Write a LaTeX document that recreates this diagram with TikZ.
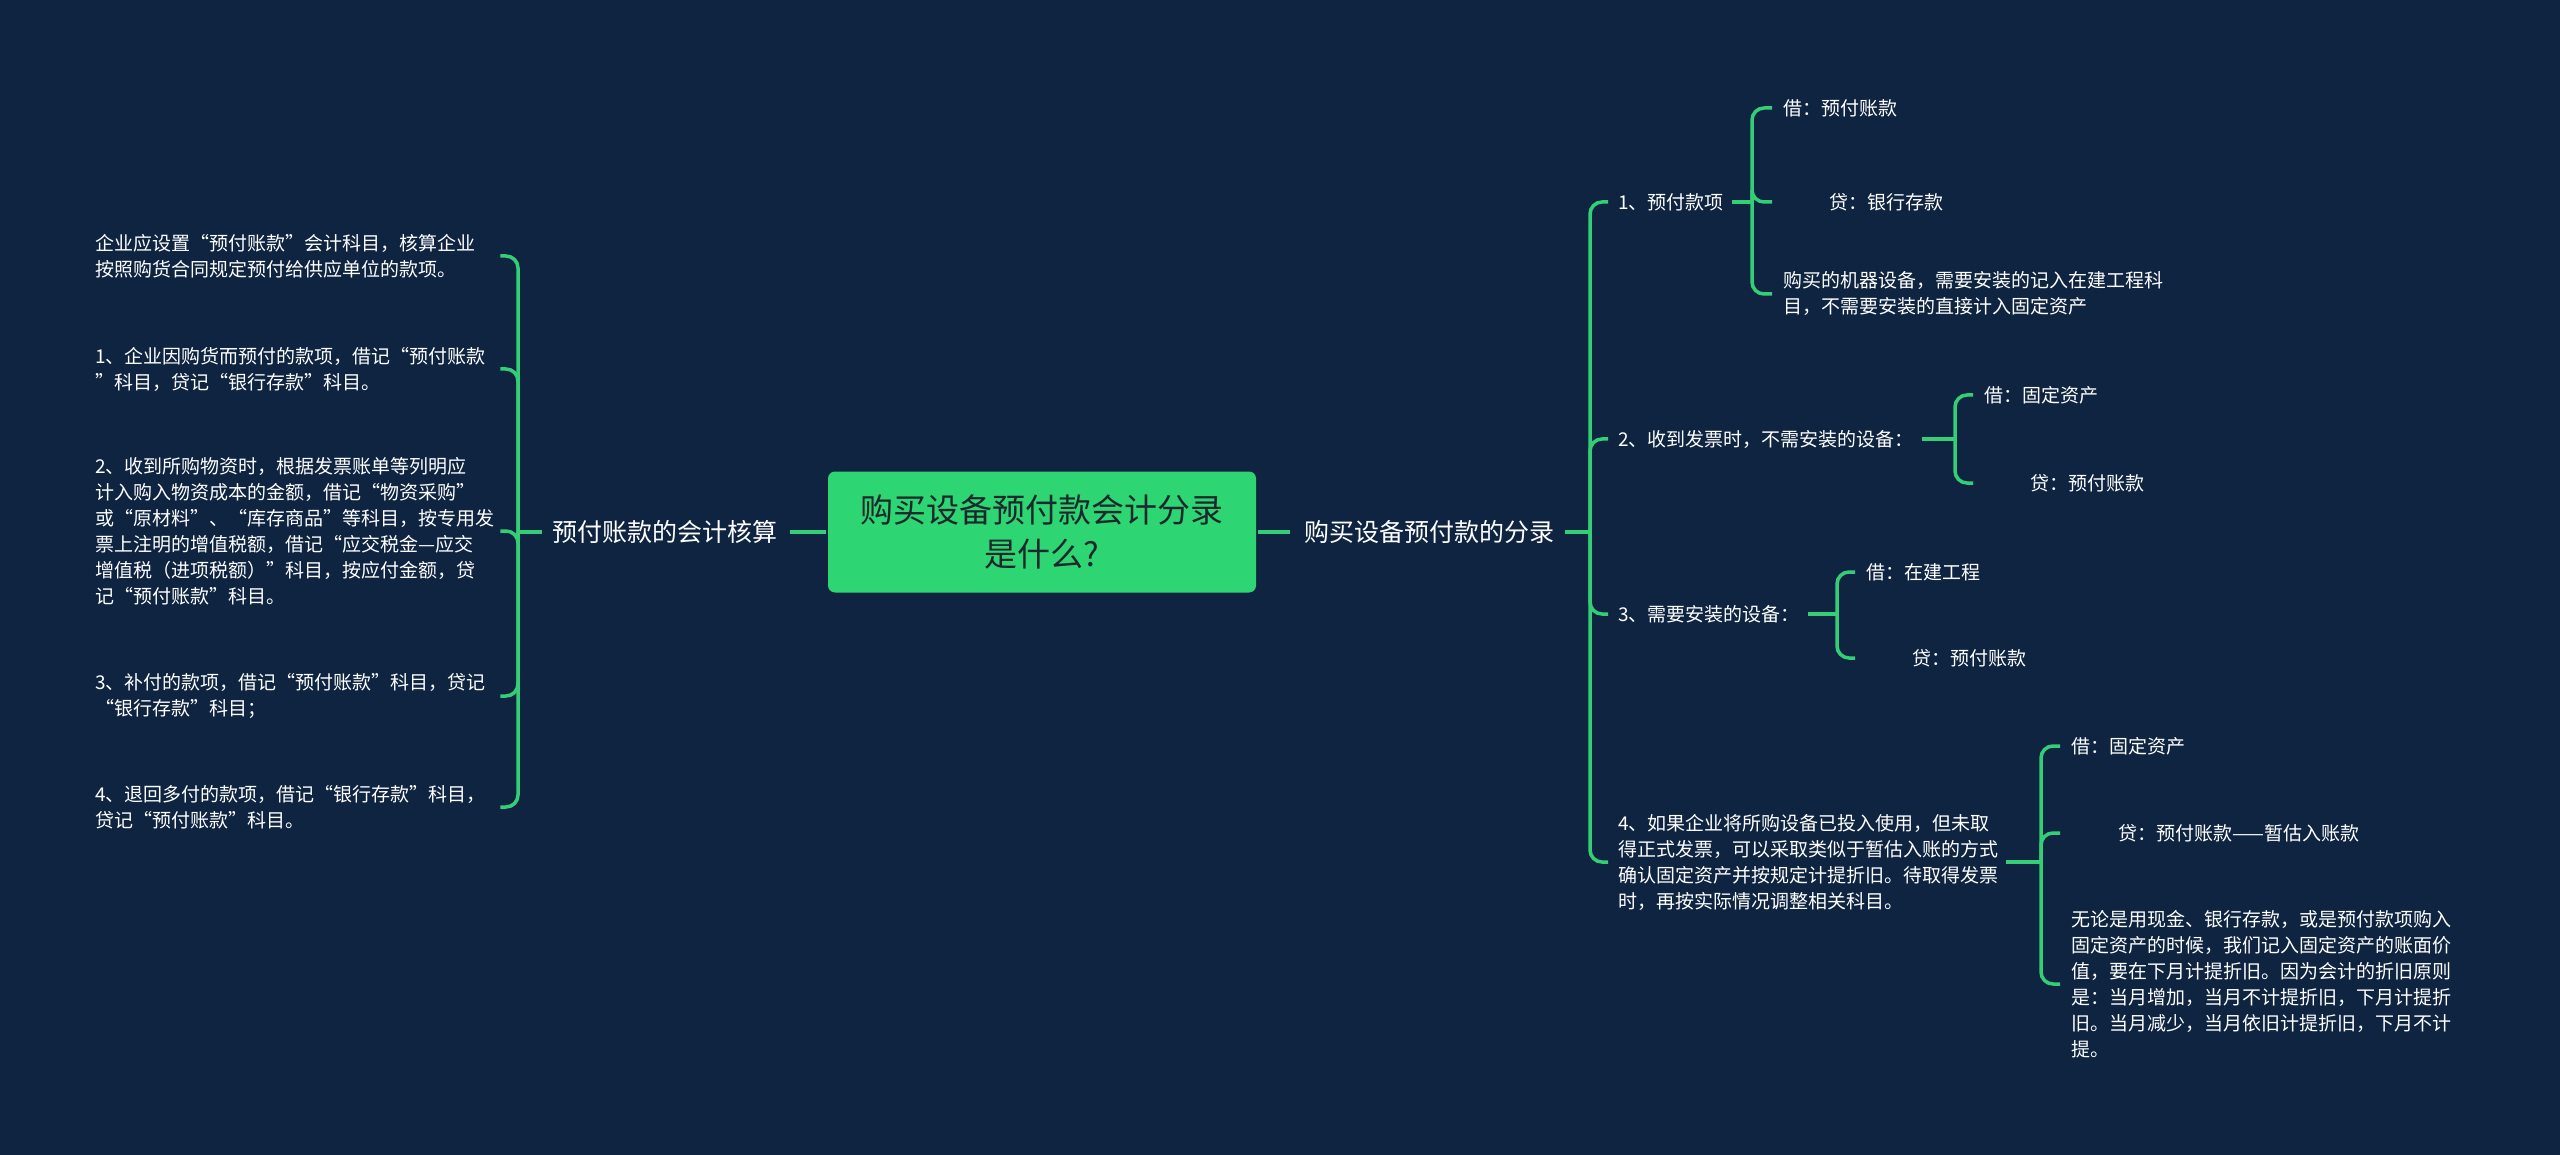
\documentclass[tikz,border=0pt]{standalone}
\usepackage{fontspec}
\setmainfont{Noto Sans CJK SC}
\definecolor{bg}{RGB}{15,36,64}
\definecolor{ln}{RGB}{52,206,118}
\definecolor{boxg}{RGB}{46,213,115}
\definecolor{ctext}{RGB}{28,40,44}
\tikzset{
  conn/.style={draw=ln, line width=3.5pt, rounded corners=12pt},
  small/.style={font=\fontsize{19}{26}\selectfont, text=white, inner sep=0pt, align=left, anchor=west},
  mid/.style={font=\fontsize{25}{32}\selectfont, text=white, inner sep=0pt},
  leftitem/.style={small, text width=392pt},
  root/.style={fill=boxg, rounded corners=7pt, minimum width=428pt, minimum height=121pt, inner sep=0pt,
    align=center, text=ctext, font=\fontsize{33}{44}\selectfont},
}
\begin{document}
\begin{tikzpicture}[x=1pt,y=-1pt]
\fill[bg] (0,0) rectangle (2560,1155);
\useasboundingbox (0,0) rectangle (2560,1155);

% root and first level
\node[root] (root) at (1042,532) {购买设备预付款会计分录\\是什么?};
\node[mid, anchor=east] (lab1) at (778,532) {预付账款的会计核算};
\node[mid, anchor=west] (lab2) at (1304,532) {购买设备预付款的分录};
\draw[conn, shorten <=2pt, shorten >=12pt] (root.west) -- (lab1.east);
\draw[conn, shorten <=2pt, shorten >=14pt] (root.east) -- (lab2.west);

% left side
\coordinate (jL) at (518,532);
\node[leftitem] (L1) at (95,256) {企业应设置“预付账款”会计科目，核算企业\\按照购货合同规定预付给供应单位的款项。};
\node[leftitem] (L2) at (95,369) {1、企业因购货而预付的款项，借记“预付账款\\”科目，贷记“银行存款”科目。};
\node[leftitem] (L3) at (95,531) {2、收到所购物资时，根据发票账单等列明应\\计入购入物资成本的金额，借记“物资采购”\\或“原材料”、“库存商品”等科目，按专用发\\票上注明的增值税额，借记“应交税金—应交\\增值税（进项税额）”科目，按应付金额，贷\\记“预付账款”科目。};
\node[leftitem] (L4) at (95,696) {3、补付的款项，借记“预付账款”科目，贷记\\“银行存款”科目；};
\node[leftitem] (L5) at (95,807) {4、退回多付的款项，借记“银行存款”科目，\\贷记“预付账款”科目。};
\draw[conn, shorten <=11pt] (lab1.west) -- (jL);
\foreach \c in {L1,L2,L3,L4,L5} \draw[conn, shorten >=13pt] (jL) |- (\c.east);

% right side level 2
\coordinate (jR) at (1590,532);
\draw[conn, shorten <=11pt] (lab2.east) -- (jR);
\node[small] (r1) at (1618,202) {1、预付款项};
\node[small] (r2) at (1618,439) {2、收到发票时，不需安装的设备：};
\node[small] (r3) at (1618,614) {3、需要安装的设备：};
\node[small] (r4) at (1618,862) {4、如果企业将所购设备已投入使用，但未取\\得正式发票，可以采取类似于暂估入账的方式\\确认固定资产并按规定计提折旧。待取得发票\\时，再按实际情况调整相关科目。};
\foreach \c in {r1,r2,r3,r4} \draw[conn, shorten >=10pt] (jR) |- (\c.west);

% branch 1
\coordinate (j2) at (1752,202);
\draw[conn, shorten <=8pt] (r1.east) -- (j2);
\node[small] (a1) at (1783,108) {借：预付账款};
\node[small] (a2) at (1783,202) {\hspace*{46pt}贷：银行存款};
\node[small] (a3) at (1783,294) {购买的机器设备，需要安装的记入在建工程科\\目，不需要安装的直接计入固定资产};
\foreach \c in {a1,a2,a3} \draw[conn, shorten >=11pt] (j2) |- (\c.west);

% branch 2
\coordinate (j3) at (1955,439);
\draw[conn, shorten <=8pt] (r2.east) -- (j3);
\node[small] (b1) at (1984,395) {借：固定资产};
\node[small] (b2) at (1984,483) {\hspace*{46pt}贷：预付账款};
\foreach \c in {b1,b2} \draw[conn, shorten >=11pt] (j3) |- (\c.west);

% branch 3
\coordinate (j4) at (1837,614);
\draw[conn, shorten <=8pt] (r3.east) -- (j4);
\node[small] (c1) at (1866,572) {借：在建工程};
\node[small] (c2) at (1866,658) {\hspace*{46pt}贷：预付账款};
\foreach \c in {c1,c2} \draw[conn, shorten >=11pt] (j4) |- (\c.west);

% branch 4
\coordinate (j5) at (2041,862);
\draw[conn, shorten <=8pt] (r4.east) -- (j5);
\node[small] (d1) at (2071,746) {借：固定资产};
\node[small] (d2) at (2071,833) {\hspace*{47pt}贷：预付账款——暂估入账款};
\node[small] (d3) at (2071,984) {无论是用现金、银行存款，或是预付款项购入\\固定资产的时候，我们记入固定资产的账面价\\值，要在下月计提折旧。因为会计的折旧原则\\是：当月增加，当月不计提折旧，下月计提折\\旧。当月减少，当月依旧计提折旧，下月不计\\提。};
\foreach \c in {d1,d2,d3} \draw[conn, shorten >=11pt] (j5) |- (\c.west);
\end{tikzpicture}
\end{document}
